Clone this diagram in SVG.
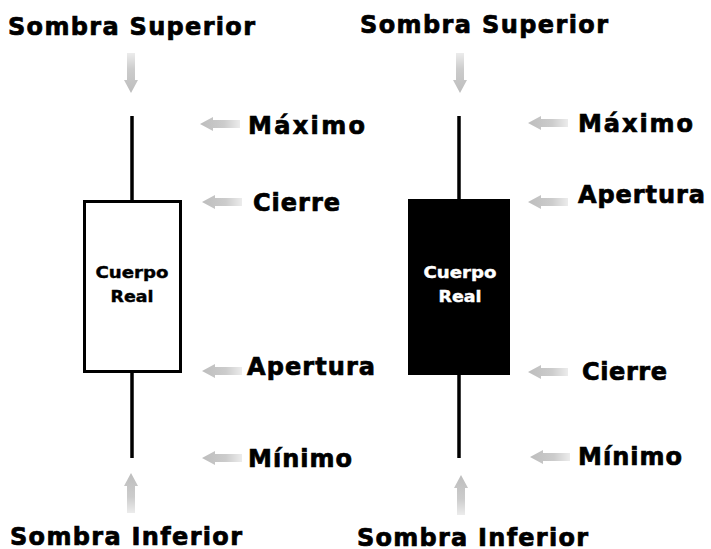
<svg xmlns="http://www.w3.org/2000/svg" xmlns:xlink="http://www.w3.org/1999/xlink" width="711" height="549" viewBox="0 0 711 549">
<style>
.lbl{font-family:"DejaVu Sans","Liberation Sans",sans-serif;font-weight:bold;font-size:24px;fill:#000;stroke:#000;stroke-width:0.7px}
.body{font-family:"DejaVu Sans","Liberation Sans",sans-serif;font-weight:bold;font-size:15px;text-anchor:middle;stroke-width:0.4px}
.wick{stroke:#000;stroke-width:3.5}
</style>
<defs>
<linearGradient id="ag" x1="0" y1="0" x2="1" y2="0">
<stop offset="0" stop-color="#bdbdbd"/>
<stop offset="0.6" stop-color="#cccccc"/>
<stop offset="1" stop-color="#ececec"/>
</linearGradient>
<path id="arr" d="M0,0 L13,-7 L13,-4 L40,-4 L40,4 L13,4 L13,7 Z" fill="url(#ag)"/>
</defs>
<rect width="711" height="549" fill="#fff"/>
<g id="connectors">
<use xlink:href="#arr" transform="translate(131,93) rotate(-90)"/>
<use xlink:href="#arr" transform="translate(131,473) rotate(90)"/>
<use xlink:href="#arr" transform="translate(200,124)"/>
<use xlink:href="#arr" transform="translate(202,202)"/>
<use xlink:href="#arr" transform="translate(202,371)"/>
<use xlink:href="#arr" transform="translate(202,458)"/>
<use xlink:href="#arr" transform="translate(460,93) rotate(-90)"/>
<use xlink:href="#arr" transform="translate(461,475) rotate(90)"/>
<use xlink:href="#arr" transform="translate(528,123)"/>
<use xlink:href="#arr" transform="translate(528,202)"/>
<use xlink:href="#arr" transform="translate(528,372)"/>
<use xlink:href="#arr" transform="translate(530,457)"/>
</g>
<g id="candle-white">
<line class="wick" x1="132" y1="116" x2="132" y2="458"/>
<rect x="84.5" y="201.5" width="96" height="170" fill="#fff" stroke="#000" stroke-width="3"/>
<text class="body" x="132" y="278" textLength="73" lengthAdjust="spacingAndGlyphs" fill="#000" stroke="#000">Cuerpo</text>
<text class="body" x="132" y="302" textLength="43" lengthAdjust="spacingAndGlyphs" fill="#000" stroke="#000">Real</text>
</g>
<g id="candle-black">
<line class="wick" x1="459" y1="116" x2="459" y2="458"/>
<rect x="408" y="199" width="102" height="176" fill="#000"/>
<text class="body" x="460" y="278" fill="#fff" stroke="#fff" textLength="73" lengthAdjust="spacingAndGlyphs">Cuerpo</text>
<text class="body" x="460" y="302" fill="#fff" stroke="#fff" textLength="43" lengthAdjust="spacingAndGlyphs">Real</text>
</g>
<g id="labels-left">
<text class="lbl" x="8" y="35" textLength="247" lengthAdjust="spacing">Sombra Superior</text>
<text class="lbl" x="248" y="134" textLength="117" lengthAdjust="spacing">Máximo</text>
<text class="lbl" x="253" y="211" textLength="87" lengthAdjust="spacing">Cierre</text>
<text class="lbl" x="247" y="375" textLength="128" lengthAdjust="spacing">Apertura</text>
<text class="lbl" x="248" y="467" textLength="104" lengthAdjust="spacing">Mínimo</text>
<text class="lbl" x="10" y="545" textLength="232" lengthAdjust="spacing">Sombra Inferior</text>
</g>
<g id="labels-right">
<text class="lbl" x="360" y="33" textLength="248" lengthAdjust="spacing">Sombra Superior</text>
<text class="lbl" x="578" y="132" textLength="115" lengthAdjust="spacing">Máximo</text>
<text class="lbl" x="578" y="203" textLength="127" lengthAdjust="spacing">Apertura</text>
<text class="lbl" x="582" y="380" textLength="85" lengthAdjust="spacing">Cierre</text>
<text class="lbl" x="578" y="465" textLength="104" lengthAdjust="spacing">Mínimo</text>
<text class="lbl" x="357" y="546" textLength="231" lengthAdjust="spacing">Sombra Inferior</text>
</g>
</svg>
